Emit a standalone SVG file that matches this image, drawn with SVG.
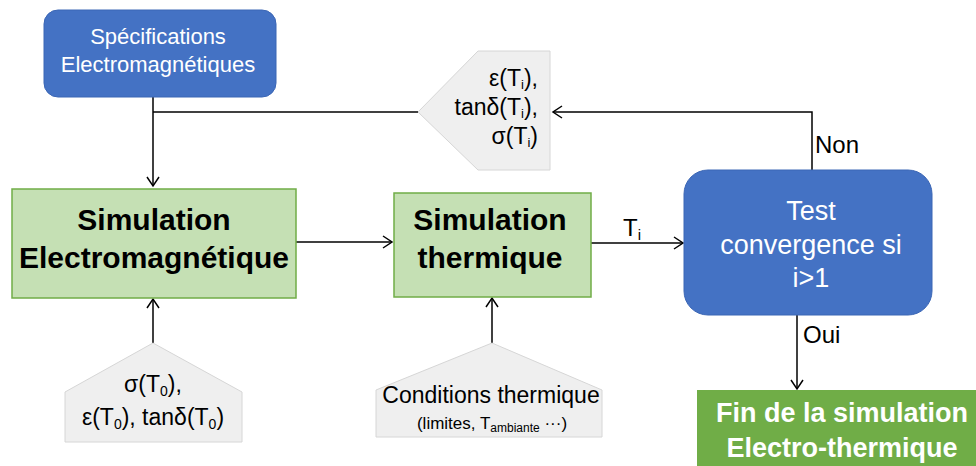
<svg xmlns="http://www.w3.org/2000/svg" width="976" height="466" viewBox="0 0 976 466">
<defs>
<marker id="arr" markerWidth="12" markerHeight="14" refX="10" refY="7" orient="auto" markerUnits="userSpaceOnUse">
<path d="M1,1 L10,7 L1,13" fill="none" stroke="#000" stroke-width="1.5"/>
</marker>
<style>
text{font-family:"Liberation Sans",Arial,sans-serif;}
.w{fill:#fff;}
.k{fill:#000;}
.blue{fill:#4472C4;stroke:#3B66B5;stroke-width:1;}
.green{fill:#C5E0B4;stroke:#70AD47;stroke-width:1.5;}
.gray{fill:#EFEFEF;stroke:#D6D6D6;stroke-width:1;}
.line{fill:none;stroke:#000;stroke-width:1.5;}
.b{font-weight:bold;}
</style>
</defs>
<rect width="976" height="466" fill="#fff"/>

<g id="connectors">
<path class="line" d="M153,97 V186" marker-end="url(#arr)"/>
<path class="line" d="M153,112 H418"/>
<path class="line" d="M812,170 V112 H553" marker-end="url(#arr)"/>
<path class="line" d="M296,242 H392" marker-end="url(#arr)"/>
<path class="line" d="M591,243 H683" marker-end="url(#arr)"/>
<path class="line" d="M153,343 V299" marker-end="url(#arr)"/>
<path class="line" d="M492,343 V298" marker-end="url(#arr)"/>
<path class="line" d="M797,315 V389" marker-end="url(#arr)"/>
<text x="815" y="153" font-size="24" class="k">Non</text>
<text x="803" y="343" font-size="24" class="k">Oui</text>
<text x="623" y="236" font-size="24" class="k">T<tspan font-size="15" dy="4">i</tspan></text>
</g>

<g id="spec">
<rect class="blue" x="44" y="10" width="232" height="87" rx="14"/>
<text x="158" y="44" font-size="22" text-anchor="middle" class="w">Spécifications</text>
<text x="158" y="72" font-size="22" text-anchor="middle" class="w">Electromagnétiques</text>
</g>

<g id="feedback">
<polygon class="gray" points="418,112 478,51 550,51 550,170 478,170"/>
<text x="538" y="86" font-size="23" text-anchor="end" class="k">ε(T<tspan font-size="13" dy="3">i</tspan><tspan dy="-3">),</tspan></text>
<text x="538" y="115" font-size="23" text-anchor="end" class="k">tanδ(T<tspan font-size="13" dy="3">i</tspan><tspan dy="-3">),</tspan></text>
<text x="538" y="144" font-size="23" text-anchor="end" class="k">σ(T<tspan font-size="13" dy="3">i</tspan><tspan dy="-3">)</tspan></text>
</g>

<g id="simem">
<rect class="green" x="12" y="189" width="284" height="109"/>
<text x="154" y="230" font-size="30" text-anchor="middle" class="k b">Simulation</text>
<text x="154" y="268" font-size="30" text-anchor="middle" class="k b">Electromagnétique</text>
</g>

<g id="simth">
<rect class="green" x="394" y="193" width="197" height="104"/>
<text x="490" y="230" font-size="30" text-anchor="middle" class="k b">Simulation</text>
<text x="490" y="268" font-size="30" text-anchor="middle" class="k b">thermique</text>
</g>

<g id="test">
<rect class="blue" x="684" y="170" width="248" height="145" rx="24"/>
<text x="811" y="220" font-size="27" text-anchor="middle" class="w">Test</text>
<text x="811" y="254" font-size="27" text-anchor="middle" class="w">convergence si</text>
<text x="811" y="287" font-size="27" text-anchor="middle" class="w">i&gt;1</text>
</g>

<g id="fin">
<rect x="697" y="390" width="279" height="76" fill="#70AD47"/>
<text x="842" y="422" font-size="27" text-anchor="middle" class="w b">Fin de la simulation</text>
<text x="842" y="457" font-size="27" text-anchor="middle" class="w b">Electro-thermique</text>
</g>

<g id="init">
<polygon class="gray" points="153,343 242,392 242,442 65,442 65,392"/>
<text x="153" y="392" font-size="23" text-anchor="middle" class="k">σ(T<tspan font-size="14" dy="4">0</tspan><tspan dy="-4">),</tspan></text>
<text x="153" y="425" font-size="23" text-anchor="middle" class="k">ε(T<tspan font-size="14" dy="4">0</tspan><tspan dy="-4">), tanδ(T</tspan><tspan font-size="14" dy="4">0</tspan><tspan dy="-4">)</tspan></text>
</g>

<g id="cond">
<polygon class="gray" points="492,343 602,390 602,437 376,437 376,390"/>
<text x="491" y="403" font-size="23" text-anchor="middle" class="k">Conditions thermique</text>
<text x="492" y="429" font-size="17" text-anchor="middle" class="k">(limites, T<tspan font-size="12" dy="3">ambiante</tspan><tspan dy="-3"> ···)</tspan></text>
</g>
</svg>
